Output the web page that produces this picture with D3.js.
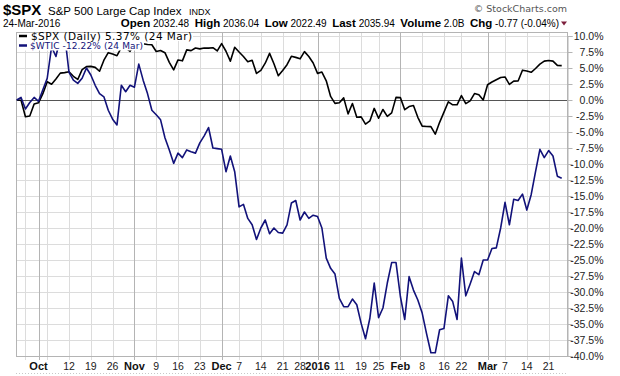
<!DOCTYPE html>
<html>
<head>
<meta charset="utf-8">
<script src="https://cdn.jsdelivr.net/npm/d3@7"></script>
<style>
    body { margin: 0; background: #ffffff; }
    svg { display: block; font-family: "Liberation Sans", Arial, sans-serif; }
</style>
</head>
<body>
<div id="canvas"></div>
<script>
"use strict"

/* Size of the canvas */
let svgWidth = 620;
let svgHeight = 376;

/* Edges of the plot frame */
let plotLeft = 16
let plotRight = 567
let plotTop = 32
let plotBottom = 356

/* Market holidays, skipped on the trading-day axis */
let holidays = ["2015-11-26", "2015-12-25", "2016-01-01", "2016-01-18", "2016-02-15"];

/* Percent change since 24-Sep-2015, one value per trading day */
let spxValues = [
    0, -0.05, -2.61, -2.49, -0.63,
    -0.44, 0.99, 2.84, 2.47, 3.29, 4.20, 4.28,
    4.41, 3.70, 3.21, 4.74, 5.22,
    5.25, 5.10, 4.49, 6.22, 7.40,
    7.19, 6.92, 8.18, 8.13, 7.61,
    8.89, 9.19, 8.80, 8.68, 8.64,
    7.57, 7.74, 7.39, 5.89, 4.70,
    6.26, 6.12, 7.83, 7.71, 8.12,
    7.99, 8.12, 8.11, 8.17, 7.67,
    8.82, 7.62, 6.07, 8.25,
    7.50, 6.80, 5.97, 6.21, 4.15,
    4.64, 5.75, 7.29, 5.67, 3.79,
    4.60, 5.52, 6.83, 6.66,
    6.43, 7.56, 6.79, 5.78,
    4.16, 4.37, 3.00, 0.56, -0.53,
    -0.44, 0.33, -2.17, -0.54, -2.69,
    -2.63, -3.77, -3.27, -1.31,
    -2.85, -1.48, -2.55, -2.01, 0.41,
    0.37, -1.51, -1.02, -0.87, -2.70,
    -4.08, -4.14, -4.16, -5.34, -3.49,
    -1.90, -0.28, -0.75, -0.75,
    0.69, -0.57, -0.13, 1.01, 0.82,
    0.00,
    2.39, 2.81, 3.17, 3.51,
    3.60, 2.43, 2.95, 2.97, 4.66,
    4.52, 4.33, 4.92, 5.61, 6.07,
    6.18, 6.08, 5.41, 5.37
];

let wticValues = [
    0, 0.4, -1.4, -0.4, 0.4,
    -0.2, 1.6, 3.4, 8.3, 6.8, 9.8, 10.2,
    4.3, 3.1, 2.6, 3.4, 5.0,
    3.9, 2.3, 1.0, 0.5, -1.6,
    -3.0, -3.9, 2.3, 1.3, 2.3,
    2.0, 5.6, 3.1, 1.0, -1.6,
    -2.3, -3.1, -5.9, -7.8, -9.9,
    -8.3, -9.0, -7.8, -8.1, -8.3,
    -6.7, -5.6, -4.3, -7.5, -7.6,
    -7.7, -11.2, -8.75, -11.2,
    -16.7, -16.3, -18.5, -19.5, -21.8,
    -20.0, -18.75, -20.9, -20.0, -20.7,
    -20.8, -19.5, -16.1, -15.7,
    -18.75, -17.5, -18.5, -18.0,
    -18.2, -20.0, -24.7, -26.3, -27.2,
    -31.0, -32.3, -32.3, -31.1, -32.0,
    -34.9, -37.3, -34.1, -28.6,
    -34.0, -32.5, -28.6, -25.4, -25.4,
    -30.7, -34.3, -27.6, -29.7, -31.25,
    -33.3, -36.5, -39.5, -39.5, -35.9,
    -35.7, -30.6, -31.5, -34.3,
    -24.7, -30.6, -28.75, -26.8, -27.3,
    -25.0,
    -25.0, -23.2, -23.1, -20.0,
    -16.0, -19.5, -15.5, -15.7, -14.7,
    -17.2, -14.8, -11.2, -7.7, -9.0,
    -7.9, -8.75, -11.9, -12.22
];

/* Week grid lines and their labels ("" = no label) */
let weekDates = ["2015-09-28", "2015-10-05", "2015-10-12", "2015-10-19", "2015-10-26",
    "2015-11-09", "2015-11-16", "2015-11-23", "2015-12-07", "2015-12-14", "2015-12-21",
    "2015-12-28", "2016-01-11", "2016-01-19", "2016-01-25", "2016-02-08", "2016-02-16",
    "2016-02-22", "2016-03-07", "2016-03-14", "2016-03-21"];
let weekLabels = ["", "", "12", "19", "26", "9", "16", "23", "7", "14", "21",
    "28", "11", "19", "25", "8", "16", "22", "7", "14", "21"];

/* Month grid lines and their labels */
let monthDates = ["2015-10-01", "2015-11-02", "2015-12-01", "2016-01-04", "2016-02-01", "2016-03-01"];
let monthLabels = ["Oct", "Nov", "Dec", "2016", "Feb", "Mar"];

/* Right axis ticks */
let yTicks = [10, 7.5, 5, 2.5, 0, -2.5, -5, -7.5, -10, -12.5, -15, -17.5, -20,
    -22.5, -25, -27.5, -30, -32.5, -35, -37.5, -40];

/* Trading days of the chart */
let fmt = d3.timeFormat("%Y-%m-%d");
let days = d3.timeDay.range(new Date(2015, 8, 24), new Date(2016, 2, 25))
    .filter(d => d.getDay() !== 0 && d.getDay() !== 6 && !holidays.includes(fmt(d)))
    .map(fmt);

let svg = d3.select("#canvas")
    .append("svg")
    .attr("width", svgWidth)
    .attr("height", svgHeight);

let xScale = d3.scalePoint()
    .domain(days)
    .range([16.7, 561.7]);

let yScale = d3.scaleLinear()
    .domain([-40, 10])
    .range([plotBottom, 36]);

/* Horizontal grid */
svg.append("g")
    .selectAll("line")
    .data(yTicks)
    .join("line")
    .attr("x1", plotLeft)
    .attr("x2", plotRight)
    .attr("y1", d => Math.round(yScale(d)) + 0.5)
    .attr("y2", d => Math.round(yScale(d)) + 0.5)
    .attr("stroke", "#dcdcdc");

/* Week grid */
svg.append("g")
    .selectAll("line")
    .data(weekDates)
    .join("line")
    .attr("x1", d => Math.round(xScale(d)) + 0.5)
    .attr("x2", d => Math.round(xScale(d)) + 0.5)
    .attr("y1", plotTop)
    .attr("y2", plotBottom + 4)
    .attr("stroke", "#dcdcdc");

/* Month grid */
svg.append("g")
    .selectAll("line")
    .data(monthDates)
    .join("line")
    .attr("x1", d => Math.round(xScale(d)) + 0.5)
    .attr("x2", d => Math.round(xScale(d)) + 0.5)
    .attr("y1", plotTop)
    .attr("y2", plotBottom + 4)
    .attr("stroke", "#b4b4b4");

/* Zero line */
svg.append("line")
    .attr("x1", plotLeft)
    .attr("x2", plotRight)
    .attr("y1", Math.round(yScale(0)) + 0.5)
    .attr("y2", Math.round(yScale(0)) + 0.5)
    .attr("stroke", "#555555");

/* Plot frame */
svg.append("rect")
    .attr("x", plotLeft + 0.5)
    .attr("y", plotTop + 0.5)
    .attr("width", plotRight - plotLeft)
    .attr("height", plotBottom - plotTop)
    .attr("fill", "none")
    .attr("stroke", "#b4b4b4");

/* The two performance lines */
let line = d3.line()
    .x((v, i) => xScale(days[i]))
    .y(v => yScale(v));

svg.append("path")
    .datum(spxValues)
    .attr("d", line)
    .attr("fill", "none")
    .attr("stroke", "#000000")
    .attr("stroke-width", 1.6)
    .attr("stroke-linejoin", "round");

svg.append("path")
    .datum(wticValues)
    .attr("d", line)
    .attr("fill", "none")
    .attr("stroke", "#12127a")
    .attr("stroke-width", 1.6)
    .attr("stroke-linejoin", "round");

/* Right axis */
let yAxis = d3.axisRight(yScale)
    .tickValues(yTicks)
    .tickSize(5)
    .tickFormat(d => d.toFixed(1) + "%");

let yAxisG = svg.append("g")
    .attr("transform", "translate(" + (plotRight + 0.5) + ",0)")
    .call(yAxis);

yAxisG.select(".domain").attr("stroke", "#b4b4b4");
yAxisG.selectAll(".tick line").attr("stroke", "#b4b4b4");
yAxisG.selectAll(".tick text")
    .attr("x", 36)
    .attr("text-anchor", "end")
    .attr("fill", "#222")
    .style("font-family", "Liberation Sans, Arial, sans-serif")
    .style("font-size", "10.5px");

/* Bottom labels */
svg.append("g")
    .selectAll("text")
    .data(weekDates.filter((d, i) => weekLabels[i] !== ""))
    .join("text")
    .attr("x", d => xScale(d))
    .attr("y", 370)
    .attr("text-anchor", "middle")
    .attr("fill", "#222")
    .style("font-size", "10.5px")
    .text(d => weekLabels[weekDates.indexOf(d)]);

svg.append("g")
    .selectAll("text")
    .data(monthDates)
    .join("text")
    .attr("x", d => xScale(d))
    .attr("y", 370)
    .attr("text-anchor", "middle")
    .attr("fill", "#111")
    .style("font-size", "11px")
    .style("font-weight", "bold")
    .text((d, i) => monthLabels[i]);

/* Dotted line under the dates */
svg.append("line")
    .attr("x1", plotLeft)
    .attr("x2", plotRight)
    .attr("y1", 373.5)
    .attr("y2", 373.5)
    .attr("stroke", "#c8c8c8")
    .attr("stroke-dasharray", "1,2");

/* Legend with white backing per line */
svg.append("rect").attr("x", 17).attr("y", 33).attr("width", 176).attr("height", 8).attr("fill", "#fff");
svg.append("rect").attr("x", 17).attr("y", 41).attr("width", 127).attr("height", 9.5).attr("fill", "#fff");

svg.append("line").attr("x1", 19).attr("x2", 27).attr("y1", 36).attr("y2", 36)
    .attr("stroke", "#000").attr("stroke-width", 2.5);
svg.append("line").attr("x1", 19).attr("x2", 27).attr("y1", 45.5).attr("y2", 45.5)
    .attr("stroke", "#12127a").attr("stroke-width", 2.5);

svg.append("text")
    .attr("x", 31)
    .attr("y", 39.5)
    .attr("textLength", 161)
    .style("font-family", "DejaVu Sans, Verdana, sans-serif")
    .style("font-size", "10.5px")
    .attr("fill", "#000")
    .text("$SPX (Daily) 5.37% (24 Mar)");

svg.append("text")
    .attr("x", 30)
    .attr("y", 49)
    .attr("textLength", 113)
    .style("font-family", "DejaVu Sans, Verdana, sans-serif")
    .style("font-size", "9px")
    .attr("fill", "#12127a")
    .text("$WTIC -12.22% (24 Mar)");

/* Header */
svg.append("text")
    .attr("x", 3)
    .attr("y", 15)
    .style("font-size", "15px")
    .style("font-weight", "bold")
    .text("$SPX");

svg.append("text")
    .attr("x", 48)
    .attr("y", 15)
    .style("font-size", "11.5px")
    .text("S&P 500 Large Cap Index");

svg.append("text")
    .attr("x", 189)
    .attr("y", 15)
    .style("font-size", "9px")
    .text("INDX");

svg.append("text")
    .attr("x", 3)
    .attr("y", 27)
    .style("font-size", "10px")
    .text("24-Mar-2016");

let quote = svg.append("text")
    .attr("x", 559)
    .attr("y", 27)
    .attr("text-anchor", "end")
    .style("font-size", "10px");

let quoteParts = [["Open", " 2032.48  "], ["High", " 2036.04  "], ["Low", " 2022.49  "],
    ["Last", " 2035.94  "], ["Volume", " 2.0B  "], ["Chg", " -0.77 (-0.04%)"]];
quoteParts.forEach(function (p) {
    quote.append("tspan").style("font-weight", "bold").style("font-size", "11.5px").text(p[0]);
    quote.append("tspan").attr("xml:space", "preserve").style("white-space", "pre").text(p[1]);
});

svg.append("path")
    .attr("d", "M561,21.5 L567,21.5 L564,25.5 Z")
    .attr("fill", "#7d1f3c");

svg.append("text")
    .attr("x", 567)
    .attr("y", 12)
    .attr("text-anchor", "end")
    .attr("fill", "#555")
    .style("font-family", "DejaVu Sans, Verdana, sans-serif")
    .style("font-size", "9.5px")
    .text("\u00A9 StockCharts.com");
</script>
</body>
</html>
